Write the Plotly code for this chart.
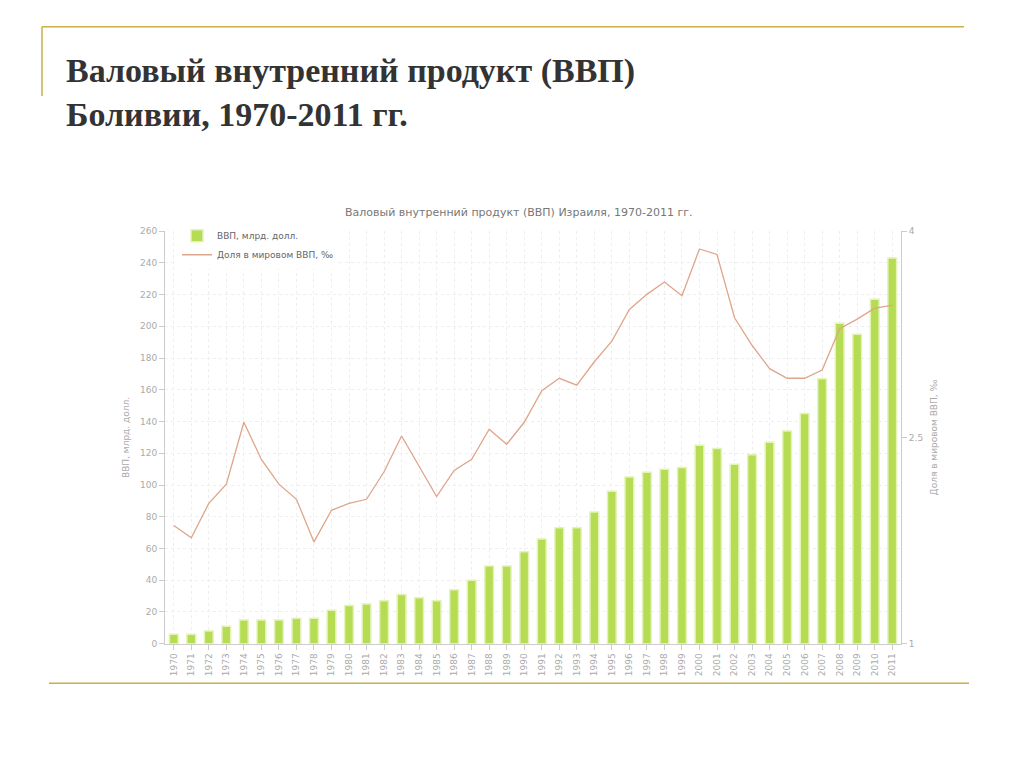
import plotly.graph_objects as go

years = [str(y) for y in range(1970, 2012)]
gdp = [6, 6, 8, 11, 15, 15, 15, 16, 16, 21, 24, 25, 27, 31, 29, 27, 34, 40, 49, 49,
       58, 66, 73, 73, 83, 96, 105, 108, 110, 111, 125, 123, 113, 119, 127, 134,
       145, 167, 202, 195, 217, 243]
share = [1.86, 1.77, 2.02, 2.16, 2.61, 2.34, 2.16, 2.05, 1.74, 1.97, 2.02, 2.05,
         2.25, 2.51, 2.29, 2.07, 2.26, 2.34, 2.56, 2.45, 2.61, 2.84, 2.93, 2.88,
         3.05, 3.20, 3.43, 3.54, 3.63, 3.53, 3.87, 3.83, 3.37, 3.17, 3.00, 2.93,
         2.93, 2.99, 3.29, 3.36, 3.44, 3.46]

W, H = 1024, 768
# rendered page comes out shifted a bit, compensate
def px(x): return (x - 9) / W
def py(y): return 1 - (y - 11) / H

fig = go.Figure()
fig.add_trace(go.Bar(x=years, y=gdp, name="ВВП, млрд. долл.",
                     marker=dict(color="#b5dc52", line=dict(color="#e4f3b8", width=1.5)),
                     width=0.5))
fig.add_trace(go.Scatter(x=years, y=share, name="Доля в мировом ВВП, ‰", yaxis="y2",
                         mode="lines", line=dict(color="#dfa58a", width=1.3)))

tick = dict(family="DejaVu Sans", size=9, color="#aaaaaa")
fig.update_layout(
    width=W, height=H, margin=dict(l=0, r=0, t=0, b=0),
    paper_bgcolor="white", plot_bgcolor="white",
    font=dict(family="DejaVu Sans", color="#888888"),
    xaxis=dict(domain=[px(166), px(902)], tickangle=-90, tickfont=tick,
               showgrid=True, gridcolor="#eeeeee", griddash="dot",
               linecolor="#cccccc", ticks="outside", tickcolor="#cccccc"),
    yaxis=dict(domain=[py(650), py(232)], range=[0, 260], dtick=20, tickfont=tick,
               showgrid=True, gridcolor="#eeeeee", griddash="dot",
               linecolor="#cccccc", showline=True, ticks="outside", tickcolor="#cccccc",
               title=dict(text="ВВП, млрд. долл.", font=dict(size=9, color="#aaaaaa"), standoff=8)),
    yaxis2=dict(overlaying="y", side="right", range=[1, 4], tickvals=[1, 2.5, 4],
                tickfont=tick, showgrid=False, showline=True, linecolor="#cccccc",
                ticks="outside", tickcolor="#cccccc",
                title=dict(text="Доля в мировом ВВП, ‰", font=dict(size=9, color="#aaaaaa"), standoff=8)),
    legend=dict(x=px(178), y=py(222), xanchor="left", yanchor="top",
                bgcolor="rgba(255,255,255,0.9)", font=dict(size=9, color="#666666"),
                itemwidth=30, tracegroupgap=0),
    showlegend=True,
)

fig.add_annotation(text="<b>Валовый внутренний продукт (ВВП)<br>Боливии, 1970-2011 гг.</b>",
                   xref="paper", yref="paper", x=px(65), y=py(48), xanchor="left", yanchor="top",
                   align="left", showarrow=False,
                   font=dict(family="Liberation Serif", size=34, color="#333333"))
fig.add_annotation(text="Валовый внутренний продукт (ВВП) Израиля, 1970-2011 гг.",
                   xref="paper", yref="paper", x=px(520), y=py(205), showarrow=False,
                   font=dict(size=11, color="#777777"))

gold = "#c9b049"
fig.add_shape(type="line", xref="paper", yref="paper", x0=px(43), x1=px(965), y0=py(25), y1=py(25),
              line=dict(color=gold, width=1.5))
fig.add_shape(type="line", xref="paper", yref="paper", x0=px(43), x1=px(43), y0=py(25), y1=py(95),
              line=dict(color=gold, width=1.5))
fig.add_shape(type="line", xref="paper", yref="paper", x0=px(50), x1=px(970), y0=py(690), y1=py(690),
              line=dict(color=gold, width=1.5))

fig.write_html("out.html")
